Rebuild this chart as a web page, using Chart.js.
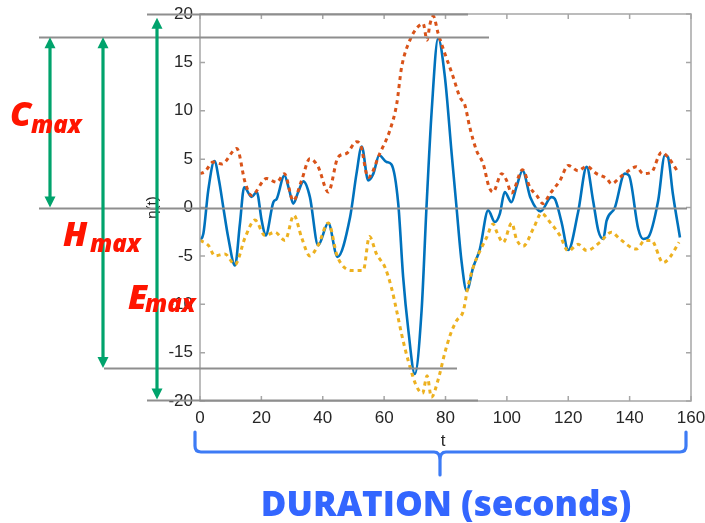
<!DOCTYPE html>
<html>
<head>
<meta charset="utf-8">
<script src="https://cdn.jsdelivr.net/npm/chart.js@4.4.1/dist/chart.umd.min.js"></script>
<style>
  html, body { margin: 0; padding: 0; background: #fff; }
  #wrap { width: 705px; height: 523px; position: relative; }
</style>
</head>
<body>
<div id="wrap"><canvas id="c" width="705" height="523"></canvas></div>
<script>
// blue signal eta(t)
const etaT = [0, 1.1, 2.7, 4.7, 6.2, 7.6, 9.2, 11.4, 13, 14.4, 16.8, 18.5, 20.1, 21.4, 23.9, 25, 27.5, 29, 30.4, 32, 33.7, 35.8, 38.5, 41.8, 44.8, 48.9, 51, 52.7, 54.8, 56.5, 58.4, 60.8, 62.4, 64.6, 66.2, 67.9, 70, 72.2, 73.8, 75.5, 77.6, 79.8, 82, 83.6, 85.2, 86.9, 89, 91.2, 93.9, 96.1, 97.7, 99.3, 101.5, 103.1, 105.1, 107.7, 111, 114.5, 115.6, 117.8, 120, 123.2, 126, 128.1, 129.8, 131.4, 132.5, 135.2, 138.4, 139.8, 142.8, 144.4, 146, 149.3, 151.5, 152.5, 154.1, 156.4];
const etaV = [-3.4, -2.7, 1.8, 4.8, 2.8, 0, -3.1, -6.0, -1.7, 2.1, 1.1, 1.6, -1.35, -2.9, 0.55, 0.9, 3.3, 1.9, 0.4, 1.6, 2.7, 1.1, -3.9, -1.6, -5.1, -1.0, 3.5, 6.3, 2.8, 3.5, 5.4, 4.7, 4.45, 0.4, -7.2, -12.7, -17.2, -10.7, 0, 10, 17.5, 13.5, 5.6, 0, -5.5, -8.6, -6.2, -4.3, -0.3, -1.5, -0.65, 1.6, 0.55, 2.1, 3.8, 1.0, -0.4, 1.07, 0.9, -1.5, -4.4, -0.5, 4.2, 0.7, -2.4, -3.25, -1.35, 0, 3.5, 3.3, -2.2, -3.25, -3.1, 0.7, 5.4, 5.2, 1.4, -3.1];

// upper envelope (red dotted)
const upperT = [0, 1.6, 4.3, 7.1, 12, 14.7, 16.8, 21.7, 25, 27.5, 30.4, 33.1, 35.8, 38.5, 41.8, 45, 47.8, 51, 52.4, 54.8, 58.6, 61.9, 64.1, 65.7, 68.4, 71.1, 72.7, 74, 74.9, 76, 77.6, 79.8, 82.5, 84.7, 86.3, 87.9, 90.1, 92.3, 94.2, 95.5, 98.3, 99.9, 101.5, 105.1, 107.5, 109.7, 111.8, 114, 117.3, 120, 123.2, 126, 129.2, 132.5, 134.1, 136.8, 139, 142.2, 144.4, 147.1, 150.4, 152.5, 155.8];
const upperV = [3.5, 3.7, 4.7, 4.5, 6.1, 2.6, 1.25, 3.0, 2.6, 3.5, 0.7, 2.8, 5.05, 4.2, 1.6, 5.2, 5.6, 6.8, 6.4, 3.1, 5.6, 8.0, 10.7, 14.5, 17.3, 18.7, 19.0, 17.3, 18.9, 19.8, 18, 15.9, 13.5, 11.4, 10.6, 8.3, 5.9, 4.5, 2.1, 1.6, 3.5, 2.8, 1.5, 3.9, 2.1, 1.25, 0.4, 1.4, 2.8, 4.35, 3.8, 4.25, 3.5, 3.0, 2.45, 3.1, 3.65, 4.2, 3.5, 3.65, 5.7, 5.2, 3.65];

// lower envelope (yellow dotted)
const lowerT = [0, 2.7, 4.9, 8.1, 11.4, 14.7, 17.9, 21.2, 24.4, 27.7, 30.6, 33.1, 35.8, 38.5, 41.8, 44.8, 49.5, 53.2, 55.2, 57.5, 60.3, 62.4, 64.1, 65.7, 67.9, 70.6, 72.5, 74, 75.4, 77.6, 79.8, 81.5, 83.6, 85.8, 87.3, 89, 91.2, 93.4, 95.5, 96.8, 98.8, 101.6, 103.1, 105.3, 108.6, 111.3, 114, 117.3, 120, 123.2, 126, 130.3, 134.1, 136.8, 142.2, 145, 147.1, 150.9, 153.1, 156.1];
const lowerV = [-3.4, -3.9, -5.0, -4.8, -5.9, -3.1, -1.3, -2.9, -2.55, -3.4, -0.8, -3.1, -5.0, -3.9, -1.6, -5.1, -6.5, -6.5, -3.0, -4.8, -6.2, -8.3, -10.7, -13.1, -15.9, -18.5, -19.2, -17.4, -19.6, -17.8, -15.0, -13.2, -11.7, -10.7, -8.2, -6.2, -4.5, -3.1, -1.7, -2.6, -3.6, -1.6, -3.25, -4.0, -2.2, -0.6, -1.5, -2.9, -4.5, -3.8, -4.45, -3.6, -2.55, -3.25, -4.3, -3.4, -3.4, -5.7, -5.15, -3.6];

const xTicks = [0, 20, 40, 60, 80, 100, 120, 140, 160];
const yTicks = [-20, -15, -10, -5, 0, 5, 10, 15, 20];

// annotation levels (in data units)
const levelEmaxTop = 20, levelTop = 17.6, levelZero = 0, levelHmaxBot = -16.6, levelEmaxBot = -19.85;

function pts(t, v) { return t.map((x, i) => ({ x: x, y: v[i] })); }

const tickFont = { family: "'Liberation Sans', Arial, sans-serif", size: 17 };
const txt = '#262626';

const overlay = {
  id: 'overlay',
  afterDraw(chart) {
    const ctx = chart.ctx, a = chart.chartArea;
    const xs = chart.scales.x, ys = chart.scales.y;
    ctx.save();

    // axes box + inward ticks
    ctx.strokeStyle = '#a6a6a6';
    ctx.lineWidth = 1.5;
    ctx.strokeRect(a.left, a.top, a.right - a.left, a.bottom - a.top);
    ctx.beginPath();
    xTicks.forEach(v => {
      const px = xs.getPixelForValue(v);
      ctx.moveTo(px, a.bottom); ctx.lineTo(px, a.bottom - 5);
      ctx.moveTo(px, a.top); ctx.lineTo(px, a.top + 5);
    });
    yTicks.forEach(v => {
      const py = ys.getPixelForValue(v);
      ctx.moveTo(a.left, py); ctx.lineTo(a.left + 5, py);
      ctx.moveTo(a.right, py); ctx.lineTo(a.right - 5, py);
    });
    ctx.stroke();

    // axis labels
    ctx.fillStyle = txt;
    ctx.font = "17px 'Liberation Sans', Arial, sans-serif";
    ctx.textAlign = 'center';
    ctx.textBaseline = 'middle';
    ctx.fillText('t', 443, 441);
    ctx.save();
    ctx.translate(153, ys.getPixelForValue(0));
    ctx.rotate(-Math.PI / 2);
    ctx.font = "15px 'Liberation Sans', Arial, sans-serif";
    ctx.fillText('\u03b7(t)', 0, 0);
    ctx.restore();

    // gray reference lines
    ctx.strokeStyle = '#8e8e8e';
    ctx.lineWidth = 2;
    const hl = (v, x1, x2) => {
      const py = Math.round(ys.getPixelForValue(v)) + 0.5;
      ctx.beginPath(); ctx.moveTo(x1, py); ctx.lineTo(x2, py); ctx.stroke();
    };
    hl(levelEmaxTop, 147, 468);
    hl(levelTop, 39, 489);
    hl(levelZero, 39, 687);
    hl(levelHmaxBot, 104, 457);
    hl(levelEmaxBot, 147, 478);

    // green double arrows
    const green = '#00a36c';
    const arrow = (x, v1, v2) => {
      const y1 = ys.getPixelForValue(v1), y2 = ys.getPixelForValue(v2);
      const h = 11, w = 5.5;
      ctx.strokeStyle = green; ctx.fillStyle = green; ctx.lineWidth = 3.2;
      ctx.beginPath(); ctx.moveTo(x, y1 + h - 1); ctx.lineTo(x, y2 - h + 1); ctx.stroke();
      ctx.beginPath(); ctx.moveTo(x, y1); ctx.lineTo(x - w, y1 + h); ctx.lineTo(x + w, y1 + h); ctx.closePath(); ctx.fill();
      ctx.beginPath(); ctx.moveTo(x, y2); ctx.lineTo(x - w, y2 - h); ctx.lineTo(x + w, y2 - h); ctx.closePath(); ctx.fill();
    };
    arrow(50, levelTop, levelZero);
    arrow(103, levelTop, levelHmaxBot);
    arrow(157, 19.6, levelEmaxBot);

    // red labels
    ctx.fillStyle = '#ff1500';
    ctx.textAlign = 'left';
    ctx.textBaseline = 'alphabetic';
    const lab = (big, x, y, sx, sy) => {
      ctx.font = "italic 800 34px 'Open Sans', 'DejaVu Sans', sans-serif";
      ctx.fillText(big, x, y);
      ctx.font = "italic 800 24px 'Open Sans', 'DejaVu Sans', sans-serif";
      ctx.fillText('max', sx, sy);
    };
    lab('C', 10, 126, 31, 133);
    lab('H', 63, 246, 90, 252);
    lab('E', 128, 309, 145, 312);

    // blue brace
    const blue = '#3d7bf5';
    ctx.strokeStyle = blue; ctx.lineWidth = 3.2; ctx.lineCap = 'round';
    const L = 195, R = 686, M = 440, T = 432, B = 452, tip = 475;
    ctx.beginPath();
    ctx.moveTo(L, T); ctx.lineTo(L, B - 6); ctx.quadraticCurveTo(L, B, L + 6, B);
    ctx.lineTo(M - 6, B); ctx.quadraticCurveTo(M, B, M, B + 8); ctx.lineTo(M, tip);
    ctx.moveTo(M, B + 8); ctx.quadraticCurveTo(M, B, M + 6, B);
    ctx.lineTo(R - 6, B); ctx.quadraticCurveTo(R, B, R, B - 6); ctx.lineTo(R, T);
    ctx.stroke();

    ctx.fillStyle = '#3366ff';
    ctx.textAlign = 'center';
    ctx.font = "800 35px 'Open Sans', Lato, sans-serif";
    ctx.fillText('DURATION (seconds)', 446, 516, 374);
    ctx.restore();
  }
};

new Chart(document.getElementById('c'), {
  type: 'line',
  data: {
    datasets: [
      { label: 'upper', data: pts(upperT, upperV), borderColor: '#d95319', borderWidth: 3, borderDash: [4, 4], pointRadius: 0, cubicInterpolationMode: 'monotone' },
      { label: 'lower', data: pts(lowerT, lowerV), borderColor: '#edb120', borderWidth: 3, borderDash: [4, 4], pointRadius: 0, cubicInterpolationMode: 'monotone' },
      { label: 'eta', data: pts(etaT, etaV), borderColor: '#0072bd', borderWidth: 2.6, pointRadius: 0, cubicInterpolationMode: 'monotone' }
    ]
  },
  options: {
    responsive: false,
    animation: false,
    layout: { autoPadding: false, padding: { left: 0, top: 14, right: 14, bottom: 0 } },
    plugins: { legend: { display: false }, tooltip: { enabled: false } },
    scales: {
      x: {
        type: 'linear', min: 0, max: 160,
        grid: { display: false, drawTicks: false }, border: { display: false },
        ticks: { stepSize: 20, color: txt, font: tickFont, padding: 7, maxRotation: 0 },
        afterFit(s) { s.height = 122; s.paddingLeft = 0; s.paddingRight = 0; }
      },
      y: {
        min: -20, max: 20,
        grid: { display: false, drawTicks: false }, border: { display: false },
        ticks: { stepSize: 5, color: txt, font: tickFont, padding: 7 },
        afterFit(s) { s.width = 200; s.paddingTop = 0; s.paddingBottom = 0; }
      }
    }
  },
  plugins: [overlay]
});
</script>
</body>
</html>
